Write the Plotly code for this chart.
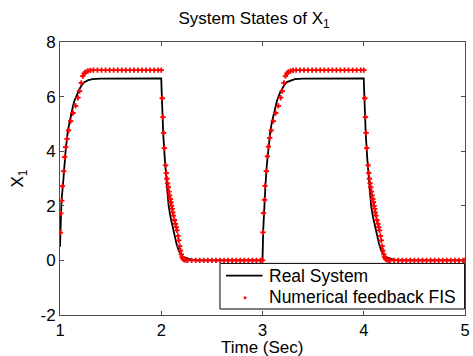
import plotly.graph_objects as go

# Real system (black line)
real_t = [1.000, 1.007, 1.015, 1.030, 1.043, 1.056, 1.078, 1.095, 1.112, 1.128, 1.144, 1.168, 1.193, 1.215,
          1.240, 1.280, 1.320, 1.400, 1.600, 2.000,
          2.003, 2.010, 2.020, 2.036, 2.059, 2.073, 2.092, 2.110, 2.125, 2.150, 2.173, 2.200, 2.222, 2.260,
          2.300, 2.350, 3.000,
          3.007, 3.015, 3.030, 3.043, 3.056, 3.078, 3.095, 3.112, 3.128, 3.144, 3.168, 3.193, 3.215,
          3.240, 3.280, 3.320, 3.400, 3.600, 4.000,
          4.003, 4.010, 4.020, 4.036, 4.059, 4.073, 4.092, 4.110, 4.125, 4.150, 4.173, 4.200, 4.222, 4.260,
          4.300, 4.350, 5.000]
real_x1 = [0.50, 1.58, 2.20, 2.80, 3.50, 4.03, 4.76, 5.10, 5.38, 5.65, 5.86, 6.10, 6.28, 6.42,
           6.53, 6.60, 6.64, 6.66, 6.67, 6.67,
           6.30, 5.50, 4.60, 3.66, 2.44, 2.00, 1.58, 1.25, 0.97, 0.62, 0.36, 0.18, 0.12, 0.06,
           0.02, 0.00, 0.00,
           1.10, 1.95, 2.80, 3.50, 4.03, 4.76, 5.10, 5.38, 5.65, 5.86, 6.10, 6.28, 6.42,
           6.53, 6.60, 6.64, 6.66, 6.67, 6.67,
           6.30, 5.50, 4.60, 3.66, 2.44, 2.00, 1.58, 1.25, 0.97, 0.62, 0.36, 0.18, 0.12, 0.06,
           0.02, 0.00, 0.00]

# Numerical feedback FIS (red markers)
fis_t = [1.003, 1.008, 1.017, 1.023, 1.036, 1.046, 1.056, 1.069, 1.085, 1.105, 1.128, 1.154, 1.177, 1.193,
         1.210, 1.225, 1.240, 1.252, 1.275, 1.300, 1.330,
         1.370, 1.410, 1.450, 1.490, 1.530, 1.570, 1.610, 1.650, 1.690, 1.730, 1.770, 1.810, 1.850,
         1.890, 1.930, 1.970, 2.000,
         2.010, 2.017, 2.023, 2.030, 2.043, 2.050, 2.056, 2.063, 2.069, 2.076, 2.082, 2.089, 2.095,
         2.102, 2.108, 2.114, 2.120, 2.130, 2.140, 2.148, 2.156, 2.165, 2.173, 2.182, 2.190, 2.198,
         2.206, 2.215, 2.225, 2.240, 2.260,
         2.300, 2.340, 2.380, 2.420, 2.460, 2.500, 2.540, 2.580, 2.620, 2.660, 2.700, 2.740, 2.780,
         2.820, 2.860, 2.900, 2.940, 2.980, 3.000,
         3.005, 3.010, 3.019, 3.025, 3.038, 3.048, 3.058, 3.071, 3.087, 3.107, 3.130, 3.156, 3.179,
         3.195, 3.212, 3.227, 3.242, 3.254, 3.277, 3.302, 3.332,
         3.370, 3.410, 3.450, 3.490, 3.530, 3.570, 3.610, 3.650, 3.690, 3.730, 3.770, 3.810, 3.850,
         3.890, 3.930, 3.970, 4.000,
         4.010, 4.017, 4.023, 4.030, 4.043, 4.050, 4.056, 4.063, 4.069, 4.076, 4.082, 4.089, 4.095,
         4.102, 4.108, 4.114, 4.120, 4.130, 4.140, 4.148, 4.156, 4.165, 4.173, 4.182, 4.190, 4.198,
         4.206, 4.215, 4.225, 4.240, 4.260,
         4.300, 4.340, 4.380, 4.420, 4.460, 4.500, 4.540, 4.580, 4.620, 4.660, 4.700, 4.740, 4.780,
         4.820, 4.860, 4.900, 4.940, 4.980, 5.000]
fis_x1 = [1.02, 1.72, 2.19, 2.72, 3.27, 3.78, 4.15, 4.45, 4.76, 5.10, 5.40, 5.66, 5.96, 6.20,
          6.50, 6.75, 6.85, 6.90, 6.94, 6.96, 6.97,
          6.97, 6.97, 6.97, 6.97, 6.97, 6.97, 6.97, 6.97, 6.97, 6.97, 6.97, 6.97, 6.97,
          6.97, 6.97, 6.97, 6.97,
          5.94, 5.25, 4.67, 4.11, 3.48, 3.20, 2.99, 2.82, 2.68, 2.52, 2.38, 2.25, 2.13,
          2.00, 1.89, 1.76, 1.64, 1.48, 1.34, 1.22, 1.10, 0.90, 0.73, 0.52, 0.36, 0.22,
          0.12, 0.06, 0.03, 0.01, 0.00,
          0.00, 0.00, 0.00, 0.00, 0.00, 0.00, 0.00, 0.00, 0.00, 0.00, 0.00, 0.00, 0.00,
          0.00, 0.00, 0.00, 0.00, 0.00, 0.00,
          1.03, 1.73, 2.22, 2.73, 3.27, 3.81, 4.17, 4.49, 4.76, 5.10, 5.40, 5.66, 5.96,
          6.20, 6.50, 6.75, 6.85, 6.90, 6.94, 6.96, 6.97,
          6.97, 6.97, 6.97, 6.97, 6.97, 6.97, 6.97, 6.97, 6.97, 6.97, 6.97, 6.97, 6.97,
          6.97, 6.97, 6.97, 6.97,
          5.94, 5.25, 4.67, 4.11, 3.48, 3.20, 2.99, 2.82, 2.68, 2.52, 2.38, 2.25, 2.13,
          2.00, 1.89, 1.76, 1.64, 1.48, 1.34, 1.22, 1.10, 0.90, 0.73, 0.52, 0.36, 0.22,
          0.12, 0.06, 0.03, 0.01, 0.00,
          0.00, 0.00, 0.00, 0.00, 0.00, 0.00, 0.00, 0.00, 0.00, 0.00, 0.00, 0.00, 0.00,
          0.00, 0.00, 0.00, 0.00, 0.00, 0.00]

x_ticks = [1, 2, 3, 4, 5]
y_ticks = [-2, 0, 2, 4, 6, 8]
series_names = ["Real System", "Numerical feedback FIS"]

FONT = "Liberation Sans, Arial, sans-serif"
FS = 17

fig = go.Figure()
fig.add_trace(go.Scatter(x=real_t, y=real_x1, mode="lines", name=series_names[0],
                         line=dict(color="black", width=1.8), showlegend=False))
fig.add_trace(go.Scatter(x=fis_t, y=fis_x1, mode="markers", name=series_names[1],
                         marker=dict(color="red", size=4.5, symbol="cross", line=dict(width=0)),
                         showlegend=False))

axis_common = dict(showgrid=False, zeroline=False, showline=True, linecolor="#4d4d4d", linewidth=1,
                   mirror="ticks", ticks="inside", ticklen=4, tickcolor="#4d4d4d",
                   tickfont=dict(family=FONT, size=FS, color="black"))

# Legend box drawn in paper coordinates (MATLAB-style compact legend)
shapes = [
    dict(type="rect", xref="paper", yref="paper", x0=0.395, x1=0.999, y0=0.022, y1=0.189,
         line=dict(color="black", width=1), fillcolor="white", layer="above"),
    dict(type="line", xref="paper", yref="paper", x0=0.410, x1=0.500, y0=0.144, y1=0.144,
         line=dict(color="black", width=1.8), layer="above"),
    dict(type="circle", xref="paper", yref="paper", x0=0.4535, x1=0.4605, y0=0.058, y1=0.069,
         line=dict(color="red", width=0), fillcolor="red", layer="above"),
]
annotations = [
    dict(text=series_names[0], xref="paper", yref="paper", x=0.512, y=0.144, xanchor="left",
         yanchor="middle", showarrow=False, font=dict(family=FONT, size=17.5, color="black")),
    dict(text=series_names[1], xref="paper", yref="paper", x=0.512, y=0.066, xanchor="left",
         yanchor="middle", showarrow=False, font=dict(family=FONT, size=17.5, color="black")),
    dict(text="Time (Sec)", xref="paper", yref="paper", x=0.5, y=-0.118, xanchor="center",
         yanchor="middle", showarrow=False, font=dict(family=FONT, size=FS, color="black")),
]

fig.update_layout(
    width=473, height=356,
    margin=dict(l=60, r=3, t=42, b=41),
    paper_bgcolor="white", plot_bgcolor="white",
    font=dict(family=FONT, color="black"),
    title=dict(text="System States of X<sub>1</sub>", x=0.537, xanchor="center",
               y=0.948, yanchor="middle", font=dict(family=FONT, size=FS, color="black")),
    xaxis=dict(range=[1, 5], tickvals=x_ticks, ticktext=[str(v) for v in x_ticks],
               ticklabeloverflow="allow", **{**axis_common, "tickfont": dict(family=FONT, size=16.5, color="black")}),
    yaxis=dict(range=[-2, 8], tickvals=y_ticks, ticktext=[str(v) for v in y_ticks],
               title=dict(text="X<sub>1</sub>", font=dict(family=FONT, size=FS), standoff=12), **axis_common),
    shapes=shapes,
    annotations=annotations,
    showlegend=False,
)

fig.write_html("out.html")
